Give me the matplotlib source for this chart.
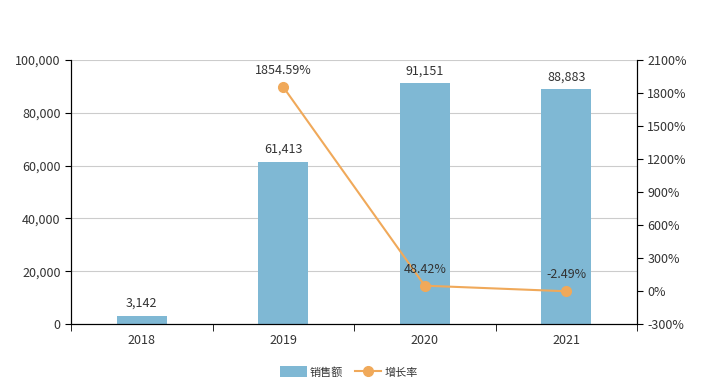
import matplotlib.pyplot as plt
import numpy as np
from matplotlib.ticker import FuncFormatter, MultipleLocator

plt.rcParams['font.family'] = ['Noto Sans CJK SC', 'DejaVu Sans']

years = ["2018", "2019", "2020", "2021"]
sales = [3142, 61413, 91151, 88883]
growth = [None, 1854.59, 48.42, -2.49]

bar_color = "#7fb8d4"
line_color = "#f0a95a"
text_color = "#333333"

fig = plt.figure(figsize=(7.08, 3.85), dpi=100)
ax = fig.add_axes([71 / 708, 61 / 385, 566 / 708, 264 / 385])
ax2 = ax.twinx()

x = np.arange(len(years))
bars = ax.bar(x, sales, width=0.35, color=bar_color, label="销售额", zorder=2)
for xi, v in zip(x, sales):
    ax.text(xi, v + 2200, f"{v:,}", ha="center", va="bottom",
            fontsize=9, color=text_color)

ax.set_xlim(-0.5, len(years) - 0.5)
ax.set_ylim(0, 100000)
ax.yaxis.set_major_locator(MultipleLocator(20000))
ax.yaxis.set_major_formatter(FuncFormatter(lambda v, p: f"{int(v):,}"))
ax.set_xticks(x)
ax.set_xticklabels(years)
ax.set_xticks(np.arange(-0.5, len(years), 1), minor=True)
ax.tick_params(axis="x", which="major", length=0, pad=7, labelsize=9, labelcolor=text_color)
ax.tick_params(axis="x", which="minor", length=5, color="black")
ax.tick_params(axis="y", length=4, labelsize=9, labelcolor=text_color)
ax.grid(axis="y", color="#cccccc", linewidth=0.8, zorder=0)
ax.set_axisbelow(True)
ax.spines["top"].set_visible(False)
ax2.spines["top"].set_visible(False)

gx = [xi for xi, g in zip(x, growth) if g is not None]
gy = [g for g in growth if g is not None]
ax2.plot(gx, gy, color=line_color, linewidth=1.5, marker="o", markersize=7,
         label="增长率", zorder=3)
for xi, g in zip(gx, gy):
    ax2.text(xi, g + 90, f"{g:.2f}%", ha="center", va="bottom",
             fontsize=9, color=text_color)

ax2.set_ylim(-300, 2100)
ax2.yaxis.set_major_locator(MultipleLocator(300))
ax2.yaxis.set_major_formatter(FuncFormatter(lambda v, p: f"{int(v)}%"))
ax2.tick_params(axis="y", length=4, labelsize=9, labelcolor=text_color)

h1, l1 = ax.get_legend_handles_labels()
h2, l2 = ax2.get_legend_handles_labels()
fig.legend(h1 + h2, l1 + l2, loc="center", bbox_to_anchor=(349 / 708, 1 - 372 / 385),
           ncol=2, frameon=False, fontsize=8, handlelength=2.4, handleheight=1.1,
           handletextpad=0.3, columnspacing=1.0, labelcolor=text_color)

fig.savefig("out.png", dpi=100)
